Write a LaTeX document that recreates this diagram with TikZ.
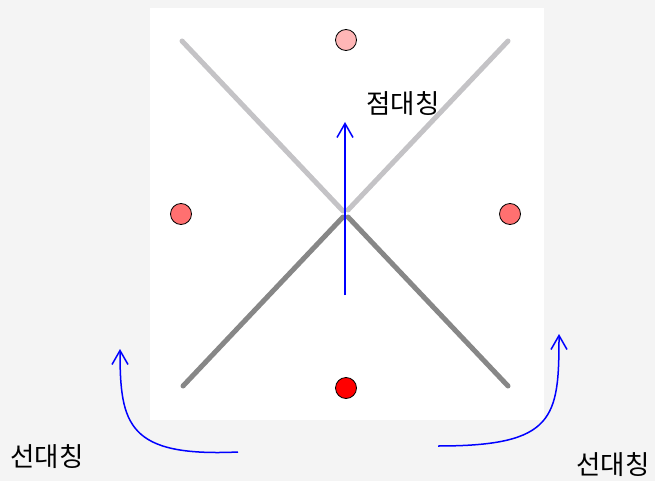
\documentclass[tikz,border=0pt]{standalone}
\usepackage{fontspec}
\newfontfamily\kofont{Noto Sans CJK KR}
\usetikzlibrary{arrows.meta}
\definecolor{bggray}{RGB}{244,244,244}
\definecolor{lightline}{RGB}{196,195,198}
\definecolor{darkline}{RGB}{135,135,135}
\definecolor{pinkdot}{RGB}{255,182,182}
\definecolor{salmondot}{RGB}{255,112,112}

\begin{document}
\begin{tikzpicture}[
    x=1pt, y=-1pt,
    font=\kofont\fontsize{26.5}{30}\selectfont,
    dot/.style={circle, draw=black, line width=0.8pt, minimum size=21pt, inner sep=0pt},
    upperarm/.style={draw=lightline, line width=5pt, line cap=round},
    lowerarm/.style={draw=darkline, line width=5pt, line cap=round},
    flip/.style={draw=blue, line width=1.5pt, -{Straight Barb[length=14pt,width=16pt]}}
]
\useasboundingbox (0,0) rectangle (655,481);
\fill[bggray] (0,0) rectangle (655,481);
\fill[white] (150,8) rectangle (544,420);

% the two V shapes
\coordinate (ul) at (182,41);
\coordinate (ur) at (508,41);
\coordinate (ll) at (183,386);
\coordinate (lr) at (508,386);
\draw[upperarm] (ul) -- (343,211);
\draw[upperarm] (ur) -- (348,210);
\draw[lowerarm] (ll) -- (343,217);
\draw[lowerarm] (lr) -- (348,217);

\node[dot, fill=pinkdot] (top) at (346,40) {};
\node[dot, fill=salmondot] (left) at (181,214) {};
\node[dot, fill=salmondot] (right) at (510,214) {};
\node[dot, fill=red] (bottom) at (346,388) {};

\node (point) at (403,104) {점대칭};
\node (lineA) at (47,457) {선대칭};
\node (lineB) at (613,465) {선대칭};

\coordinate (base) at (345,295);
\coordinate (tip) at (345,122);
\draw[flip] (base) -- (tip);

\coordinate (startA) at (238,452);
\coordinate (endA) at (120,349);
\draw[flip] (startA) .. controls (128,457) and (120,425) .. (endA);
\coordinate (startB) at (438,446);
\coordinate (endB) at (559,334);
\draw[flip] (startB) .. controls (555,446) and (559,418) .. (endB);
\end{tikzpicture}
\end{document}
